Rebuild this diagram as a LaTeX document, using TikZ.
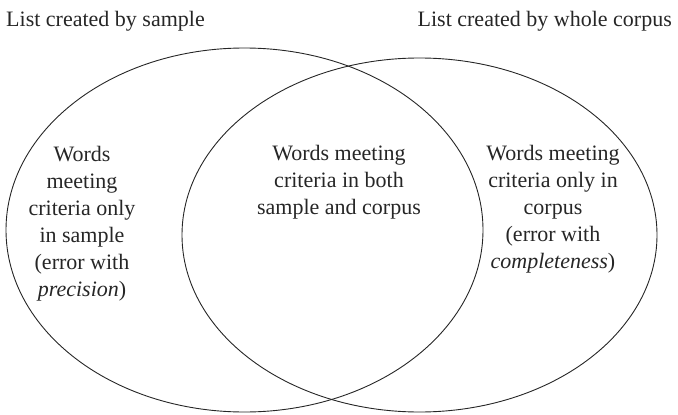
\documentclass[tikz,border=0pt]{standalone}
\usepackage{fontspec}
\setmainfont{Liberation Serif}
\begin{document}
\begin{tikzpicture}[x=1pt,y=-1pt,
  txt/.style={font=\fontsize{22}{27}\selectfont, text=black!85, inner sep=0pt, align=center},
  set/.style={draw=black!85, line width=0.9pt}]
\useasboundingbox (0,0) rectangle (678,415);
\draw[set] (244.5,230) ellipse [x radius=238.5, y radius=182];
\draw[set] (419.5,235) ellipse [x radius=237.5, y radius=177];
\node[txt, anchor=base west] (tl) at (6,26) {List created by sample};
\node[txt, anchor=base east] (tr) at (672,26) {List created by whole corpus};
\node[txt] (left) at (82,224) {Words\\meeting\\criteria only\\in sample\\(error with\\\textit{precision})};
\node[txt] (mid) at (339,182) {Words meeting\\criteria in both\\sample and corpus};
\node[txt] (right) at (553,209) {Words meeting\\criteria only in\\corpus\\(error with\\\textit{completeness})};
\end{tikzpicture}
\end{document}
